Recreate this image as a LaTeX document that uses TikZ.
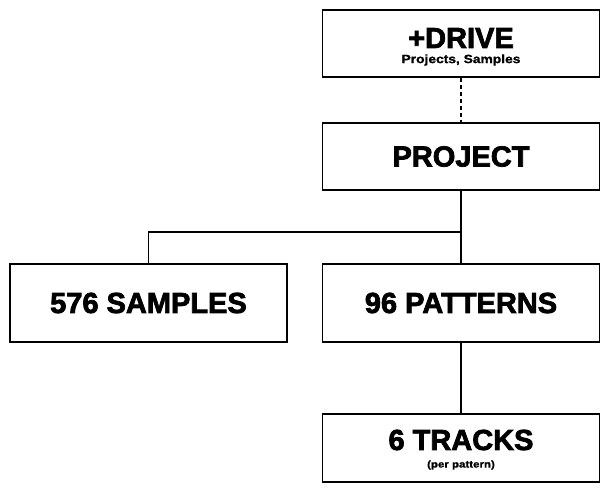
\documentclass[tikz,border=0pt]{standalone}
\usepackage{fontspec}
\setmainfont{Liberation Sans}
\newfontfamily\heavy[FakeBold=2.5]{Liberation Sans Bold}
\newfontfamily\heavyw[FakeBold=1,FakeStretch=1.15]{Liberation Sans Bold}
\begin{document}
\begin{tikzpicture}[x=1pt,y=-1pt,
  box/.style={draw,line width=1.8pt,minimum width=277pt,inner sep=0pt},
  big/.style={font=\heavy\fontsize{29}{29}\selectfont},
  conn/.style={line width=1.8pt}]
\useasboundingbox (0,0) rectangle (607,487);
\node[box,minimum height=67pt] (drive) at (461,43.5) {};
\node[big] (dt) at (461,38) {+DRIVE};
\node[font=\heavyw\fontsize{12}{12}\selectfont] (ds) at (461,60) {Projects, Samples};
\node[box,minimum height=67pt,big] (proj) at (461,156.5) {PROJECT};
\node[box,minimum height=78pt,big] (samp) at (148.5,303) {576 SAMPLES};
\node[box,minimum height=78pt,big] (patt) at (461,303) {96 PATTERNS};
\node[box,minimum height=68pt] (tracks) at (461,448) {};
\node[big] (tt) at (461,440) {6 TRACKS};
\node[font=\heavyw\fontsize{10}{10}\selectfont] (ts) at (461,465) {(per pattern)};
\coordinate (j) at (461,232);
\draw[conn,dash pattern=on 4pt off 3pt] (drive.south) -- (proj.north);
\draw[conn] (proj.south) -- (j) -- (patt.north);
\draw[conn] (j) -| (samp.north);
\draw[conn] (patt.south) -- (tracks.north);
\end{tikzpicture}
\end{document}
